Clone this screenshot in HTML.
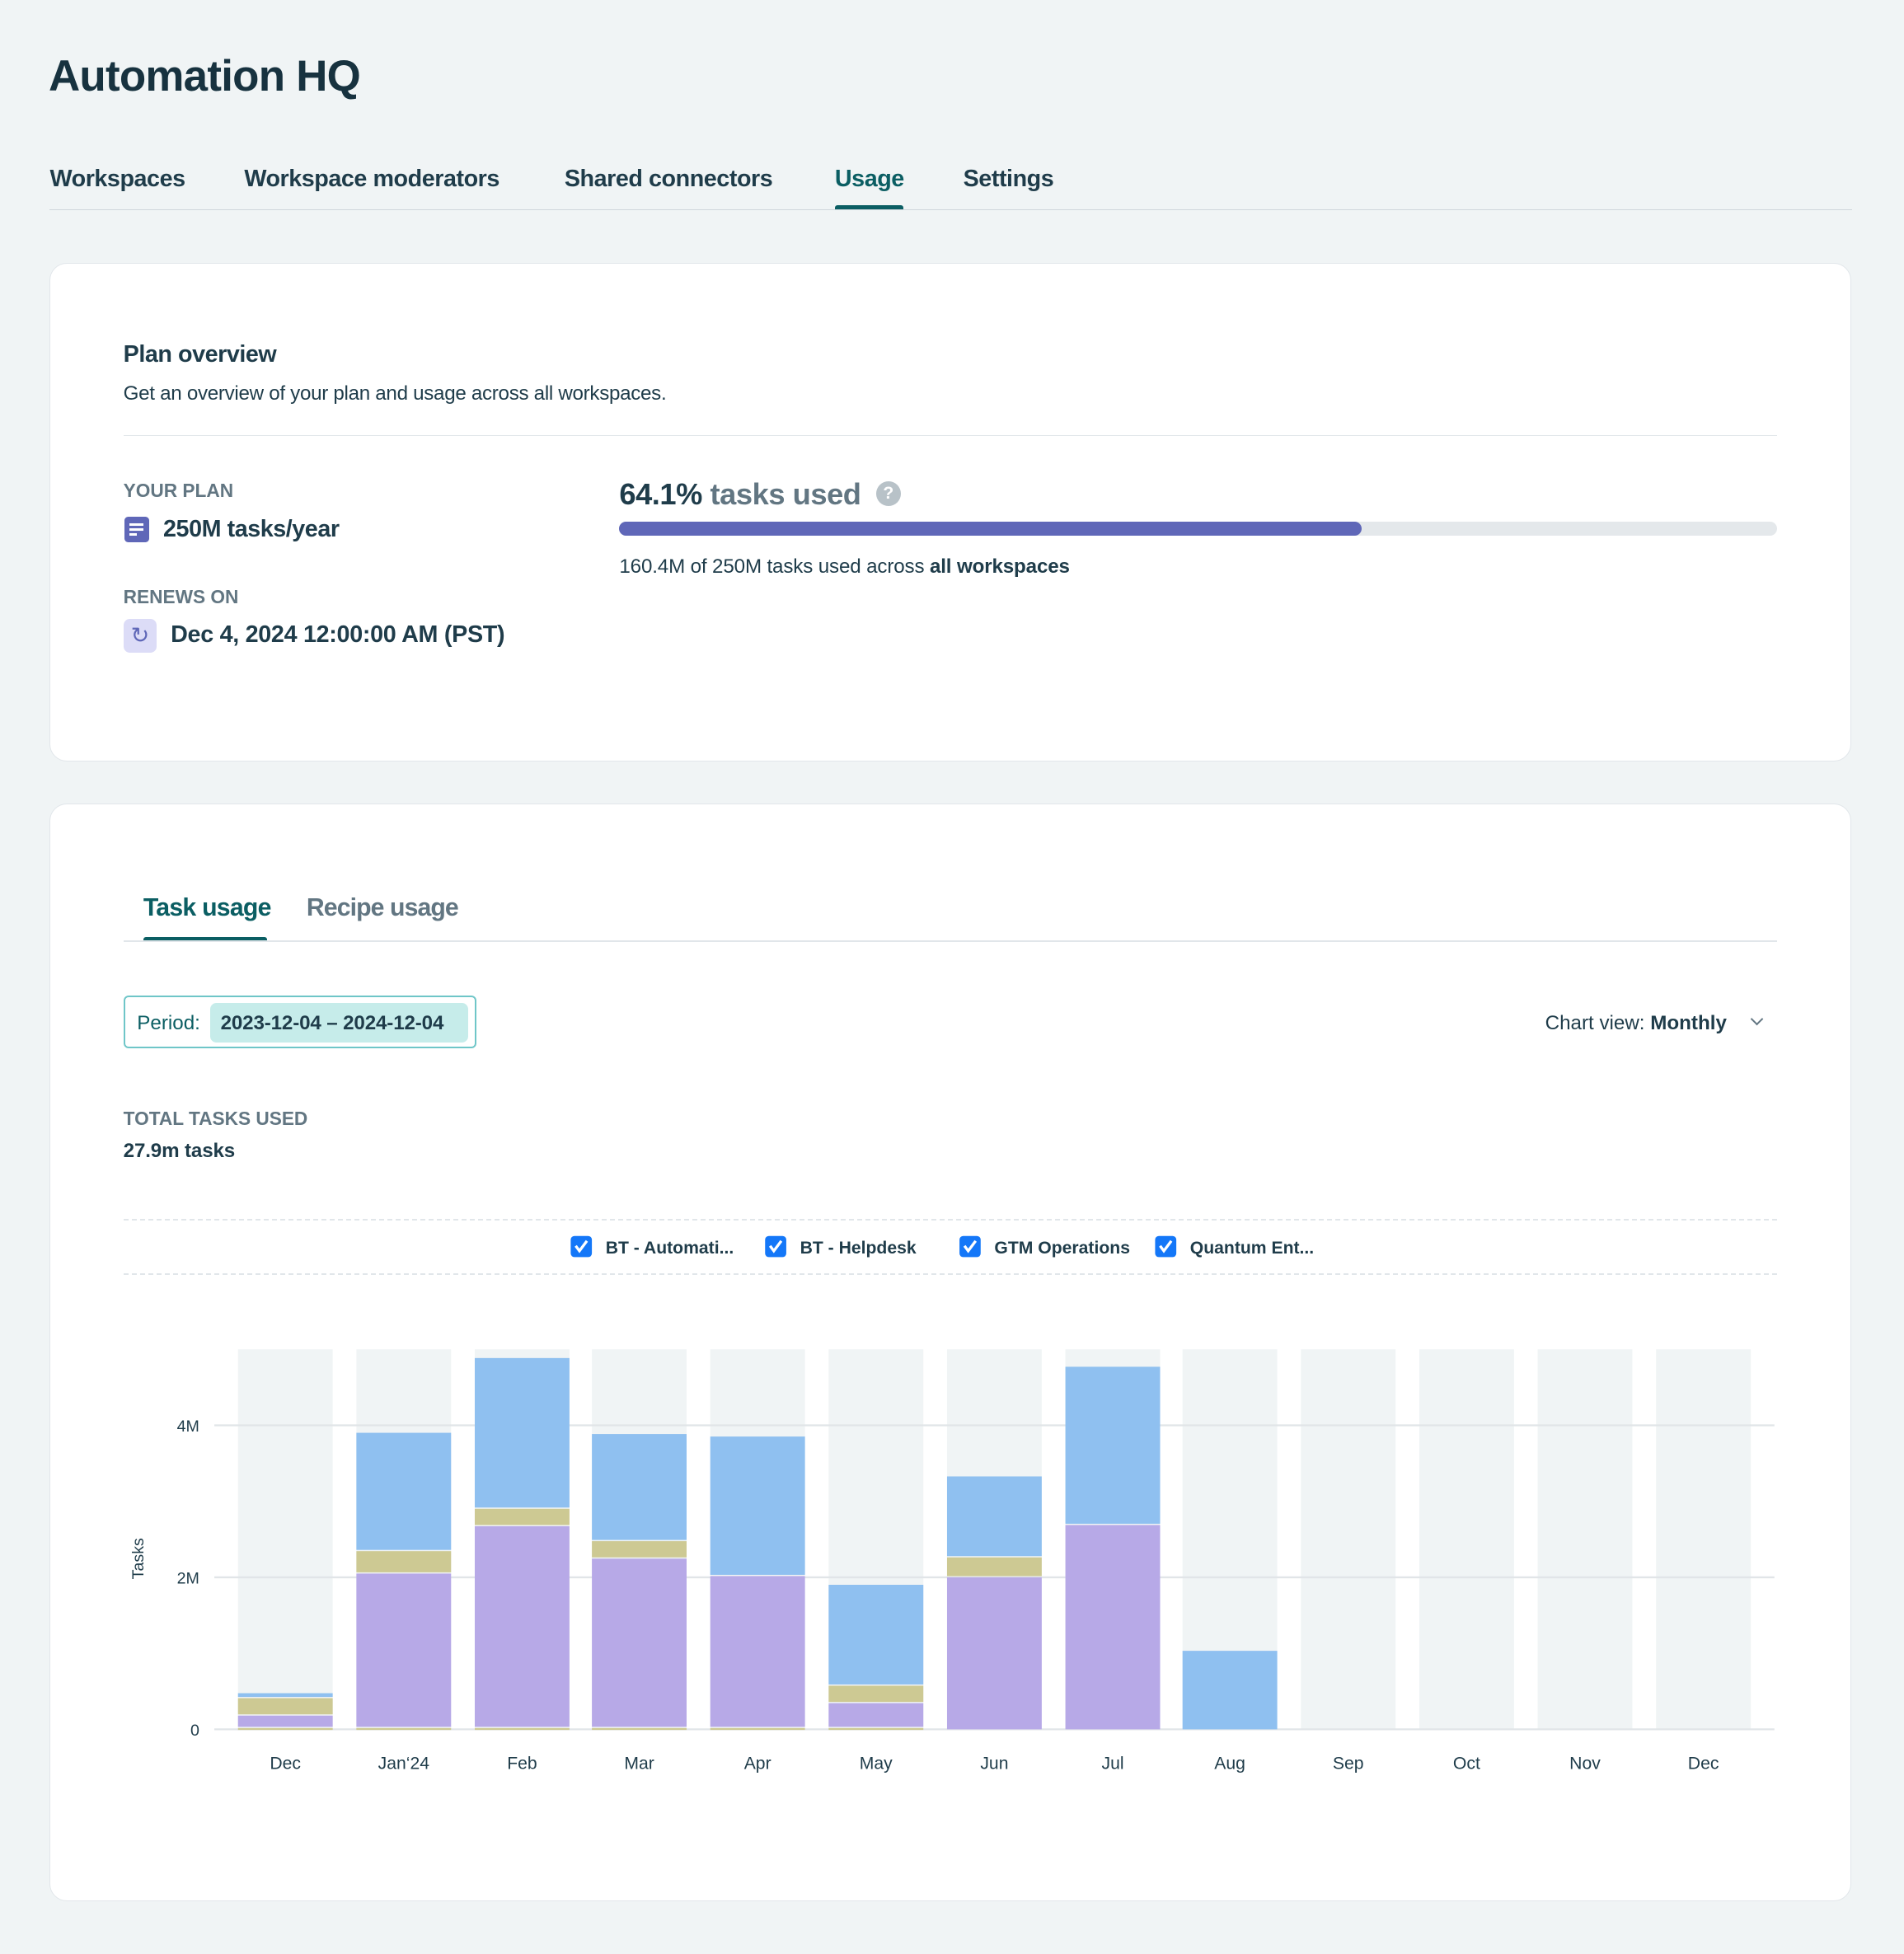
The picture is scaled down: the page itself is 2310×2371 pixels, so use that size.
<!DOCTYPE html>
<html><head><meta charset="utf-8"><style>
html,body{margin:0;padding:0;background:#f0f4f5;}
body{width:2310px;height:2371px;overflow:hidden;}
#w{position:relative;width:1528px;height:1568px;zoom:1.5118;font-family:"Liberation Sans",sans-serif;color:#1f3c4a;}
.a{position:absolute;white-space:nowrap;}
.card{position:absolute;background:#fff;border:1px solid #e1e6ea;border-radius:14px;}
.b{font-weight:bold;}
</style></head><body><div id="w">
<div class="a b" style="left:39px;top:41px;font-size:35px;letter-spacing:-0.5px;color:#17323f">Automation HQ</div>
<div class="a b" style="left:40px;top:133px;font-size:19px;letter-spacing:-0.3px">Workspaces</div>
<div class="a b" style="left:196px;top:133px;font-size:19px;letter-spacing:-0.3px">Workspace moderators</div>
<div class="a b" style="left:453px;top:133px;font-size:19px;letter-spacing:-0.3px">Shared connectors</div>
<div class="a b" style="left:670px;top:133px;font-size:19px;letter-spacing:-0.3px;color:#0b5e63">Usage</div>
<div class="a b" style="left:773px;top:133px;font-size:19px;letter-spacing:-0.3px">Settings</div>
<div class="a" style="left:40px;top:168px;width:1446px;height:1px;background:#cfd6db"></div>
<div class="a" style="left:670px;top:165px;width:55px;height:3px;background:#0b5e63;border-radius:2px 2px 0 0"></div>

<div class="card" style="left:40px;top:211px;width:1444px;height:399px"></div>
<div class="a b" style="left:99px;top:274px;font-size:19px;letter-spacing:-0.3px">Plan overview</div>
<div class="a" style="left:99px;top:307px;font-size:16px;letter-spacing:-0.2px">Get an overview of your plan and usage across all workspaces.</div>
<div class="a" style="left:99px;top:349px;width:1327px;height:1px;background:#e1e6ea"></div>
<div class="a b" style="left:99px;top:385px;font-size:15px;color:#627682">YOUR PLAN</div>
<div class="a" style="left:100px;top:415px;width:20px;height:20px;background:#5f67b8;border-radius:3px"></div>
<div class="a" style="left:104px;top:420px;width:11px;height:2px;background:#fff;box-shadow:0 4px 0 #fff"></div>
<div class="a" style="left:104px;top:428px;width:6px;height:2px;background:#fff"></div>
<div class="a b" style="left:131px;top:414px;font-size:19px;letter-spacing:-0.3px">250M tasks/year</div>
<div class="a b" style="left:99px;top:470px;font-size:15px;color:#627682">RENEWS ON</div>
<div class="a" style="left:99px;top:497px;width:27px;height:27px;background:#dcdcf7;border-radius:5px;color:#5f67b8;font-size:18px;text-align:center;line-height:27px">&#8635;</div>
<div class="a b" style="left:137px;top:499px;font-size:19px;letter-spacing:-0.2px">Dec 4, 2024 12:00:00 AM (PST)</div>
<div class="a b" style="left:497px;top:383px;font-size:24px;letter-spacing:-0.3px">64.1% <span style="color:#627682">tasks used</span></div>
<div class="a" style="left:703px;top:386px;width:20px;height:20px;border-radius:50%;background:#b8c2c8;color:#fff;font-size:14px;font-weight:bold;text-align:center;line-height:20px">?</div>
<div class="a" style="left:497px;top:419px;width:929px;height:11px;background:#e4e8eb;border-radius:6px"></div>
<div class="a" style="left:497px;top:419px;width:596px;height:11px;background:#5f67b8;border-radius:6px"></div>
<div class="a" style="left:497px;top:446px;font-size:16px;letter-spacing:-0.1px">160.4M of 250M tasks used across <b>all workspaces</b></div>

<div class="card" style="left:40px;top:645px;width:1444px;height:880px"></div>
<div class="a b" style="left:115px;top:718px;font-size:20px;letter-spacing:-0.5px;color:#0b5e63">Task usage</div>
<div class="a b" style="left:246px;top:718px;font-size:20px;letter-spacing:-0.6px;color:#627682">Recipe usage</div>
<div class="a" style="left:99px;top:755px;width:1327px;height:1px;background:#e1e6ea"></div>
<div class="a" style="left:115px;top:752px;width:99px;height:3px;background:#0b5e63;border-radius:2px 2px 0 0"></div>
<div class="a" style="left:99px;top:799px;width:281px;height:40px;border:1.5px solid #6fc6c8;border-radius:4px"></div>
<div class="a" style="left:110px;top:812px;font-size:16px;color:#0b5e63">Period:</div>
<div class="a b" style="left:169px;top:805px;width:207px;height:32px;background:#c6ecea;border-radius:5px"></div>
<div class="a b" style="left:177px;top:812px;font-size:16px;letter-spacing:-0.1px">2023-12-04 – 2024-12-04</div>
<div class="a" style="left:1240px;top:812px;font-size:16px;letter-spacing:0px">Chart view: <b>Monthly</b></div>
<div class="a" style="left:1406px;top:814px;width:6px;height:6px;border-right:1.5px solid #627682;border-bottom:1.5px solid #627682;transform:rotate(45deg)"></div>
<div class="a b" style="left:99px;top:889px;font-size:15px;color:#627682">TOTAL TASKS USED</div>
<div class="a b" style="left:99px;top:915px;font-size:16px;letter-spacing:-0.1px">27.9m tasks</div>
<div class="a" style="left:99px;top:978px;width:1327px;border-top:1.5px dashed #e1e6ea"></div>
<div class="a" style="left:99px;top:1022px;width:1327px;border-top:1.5px dashed #e1e6ea"></div>

<svg class="a" style="left:0;top:0" width="1528" height="1568" viewBox="0 0 1528 1568" font-family="Liberation Sans, sans-serif">
<g fill="#1477f8">
<rect x="458" y="992" width="17" height="17" rx="3"/><rect x="614" y="992" width="17" height="17" rx="3"/><rect x="770" y="992" width="17" height="17" rx="3"/><rect x="927" y="992" width="17" height="17" rx="3"/></g>
<g stroke="#fff" stroke-width="2.2" fill="none"><path d="M462 1000l3 4 6-8"/><path d="M618 1000l3 4 6-8"/><path d="M774 1000l3 4 6-8"/><path d="M931 1000l3 4 6-8"/></g>
<g font-size="14" font-weight="bold" fill="#1f3c4a" letter-spacing="0"><text x="486" y="1006">BT - Automati...</text><text x="642" y="1006">BT - Helpdesk</text><text x="798" y="1006">GTM Operations</text><text x="955" y="1006">Quantum Ent...</text></g>
<g fill="#f0f4f5">
<rect x="191" y="1083" width="76" height="305"/><rect x="286" y="1083" width="76" height="305"/><rect x="381" y="1083" width="76" height="305"/><rect x="475" y="1083" width="76" height="305"/><rect x="570" y="1083" width="76" height="305"/><rect x="665" y="1083" width="76" height="305"/><rect x="760" y="1083" width="76" height="305"/><rect x="855" y="1083" width="76" height="305"/><rect x="949" y="1083" width="76" height="305"/><rect x="1044" y="1083" width="76" height="305"/><rect x="1139" y="1083" width="76" height="305"/><rect x="1234" y="1083" width="76" height="305"/><rect x="1329" y="1083" width="76" height="305"/></g>
<g stroke="#e1e5e8" stroke-width="1.5"><line x1="172" y1="1144" x2="1424" y2="1144"/><line x1="172" y1="1266" x2="1424" y2="1266"/><line x1="172" y1="1388" x2="1424" y2="1388"/></g>
<g fill="#b7a9e7">
<rect x="191" y="1377" width="76" height="9"/><rect x="286" y="1263" width="76" height="123"/><rect x="381" y="1225" width="76" height="161"/><rect x="475" y="1251" width="76" height="135"/><rect x="570" y="1265" width="76" height="121"/><rect x="665" y="1367" width="76" height="19"/><rect x="760" y="1266" width="76" height="122"/><rect x="855" y="1224" width="76" height="164"/></g>
<g fill="#cdc993">
<rect x="191" y="1363" width="76" height="13"/><rect x="286" y="1245" width="76" height="17"/><rect x="381" y="1211" width="76" height="13"/><rect x="475" y="1237" width="76" height="13"/><rect x="665" y="1353" width="76" height="13"/><rect x="760" y="1250" width="76" height="15"/>
<rect x="191" y="1387" width="76" height="1.5"/><rect x="286" y="1387" width="76" height="1.5"/><rect x="381" y="1387" width="76" height="1.5"/><rect x="475" y="1387" width="76" height="1.5"/><rect x="570" y="1387" width="76" height="1.5"/><rect x="665" y="1387" width="76" height="1.5"/></g>
<g fill="#8fc0f0">
<rect x="191" y="1359" width="76" height="3"/><rect x="286" y="1150" width="76" height="94"/><rect x="381" y="1090" width="76" height="120"/><rect x="475" y="1151" width="76" height="85"/><rect x="570" y="1153" width="76" height="111"/><rect x="665" y="1272" width="76" height="80"/><rect x="760" y="1185" width="76" height="64"/><rect x="855" y="1097" width="76" height="126"/><rect x="949" y="1325" width="76" height="63"/></g>
<g font-size="13" fill="#1f3c4a" text-anchor="end"><text x="160" y="1149">4M</text><text x="160" y="1271">2M</text><text x="160" y="1393">0</text></g>
<text transform="translate(115,1251) rotate(-90)" font-size="13" fill="#1f3c4a" text-anchor="middle">Tasks</text>
<g font-size="14" fill="#1f3c4a" text-anchor="middle"><text x="229" y="1420">Dec</text><text x="324" y="1420">Jan‘24</text><text x="419" y="1420">Feb</text><text x="513" y="1420">Mar</text><text x="608" y="1420">Apr</text><text x="703" y="1420">May</text><text x="798" y="1420">Jun</text><text x="893" y="1420">Jul</text><text x="987" y="1420">Aug</text><text x="1082" y="1420">Sep</text><text x="1177" y="1420">Oct</text><text x="1272" y="1420">Nov</text><text x="1367" y="1420">Dec</text></g>
</svg>
</div></body></html>
